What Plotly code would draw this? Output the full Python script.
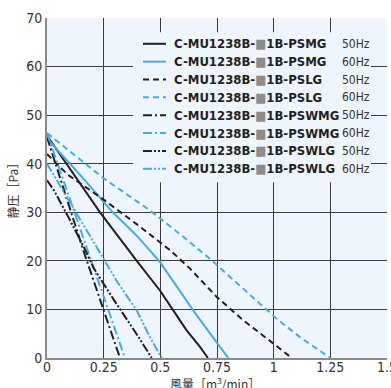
import plotly.graph_objects as go

# ---------------- data ----------------
model_names = [
    "C-MU1238B-■1B-PSMG", "C-MU1238B-■1B-PSMG",
    "C-MU1238B-■1B-PSLG", "C-MU1238B-■1B-PSLG",
    "C-MU1238B-■1B-PSWMG", "C-MU1238B-■1B-PSWMG",
    "C-MU1238B-■1B-PSWLG", "C-MU1238B-■1B-PSWLG",
]
freqs = ["50Hz", "60Hz", "50Hz", "60Hz", "50Hz", "60Hz", "50Hz", "60Hz"]

psmg50_x = [0, 0.1, 0.234, 0.396, 0.5, 0.557, 0.616, 0.675, 0.71]
psmg50_y = [45.8, 39.0, 30.0, 20.0, 13.8, 9.8, 5.7, 2.3, 0]
psmg60_x = [0, 0.15, 0.29, 0.4, 0.498, 0.57, 0.645, 0.72, 0.80]
psmg60_y = [45.2, 37.5, 30.0, 25.0, 19.8, 14.8, 9.8, 5.0, 0]
pslg50_x = [0, 0.09, 0.25, 0.4, 0.543, 0.631, 0.748, 0.865, 0.998, 1.08]
pslg50_y = [42.0, 37.8, 32.6, 27.4, 22.2, 18.4, 12.6, 7.8, 3.0, 0]
pslg60_x = [0, 0.1, 0.25, 0.454, 0.6, 0.719, 0.85, 1.013, 1.116, 1.25]
pslg60_y = [46.3, 42.6, 37.0, 30.4, 25.0, 20.4, 14.9, 8.1, 4.3, 0]
pswmg50_x = [0, 0.075, 0.16, 0.24, 0.322]
pswmg50_y = [45.5, 34.5, 22.2, 11.2, 0]
pswmg60_x = [0, 0.088, 0.175, 0.26, 0.344]
pswmg60_y = [46.3, 34.5, 22.7, 11.2, 0]
pswlg50_x = [0, 0.031, 0.1, 0.163, 0.207, 0.3, 0.4, 0.462]
pswlg50_y = [36.6, 34.5, 28.5, 22.8, 18.4, 11.6, 4.6, 0]
pswlg60_x = [0, 0.1, 0.226, 0.315, 0.396, 0.454, 0.506]
pswlg60_y = [40.0, 32.2, 22.2, 15.3, 9.8, 4.3, 0]

x_ticks = [0, 0.25, 0.5, 0.75, 1, 1.25, 1.5]
x_tick_labels = ["0", "0.25", "0.5", "0.75", "1", "1.25", "1.5"]
y_ticks = [0, 10, 20, 30, 40, 50, 60, 70]
x_title = "風量［m<sup>3</sup>/min］"
y_title = "静圧［Pa］"

# ---------------- styles ----------------
BLACK = "#231f20"
BLUE = "#4aa9e2"
BG = "#eef5fc"
GRID = "#3c3c3c"
FONT = "DejaVu Sans Condensed, Liberation Sans Narrow, Liberation Sans, sans-serif"
CJK = "Noto Sans CJK JP, sans-serif"

DASH = "6px,4px"
DASHDOT = "9px,3px,2px,3px"
DASHDOTDOT = "9px,2px,2px,2px,2px,2px"

series = [
    (psmg50_x, psmg50_y, BLACK, "solid"),
    (psmg60_x, psmg60_y, BLUE, "solid"),
    (pslg50_x, pslg50_y, BLACK, DASH),
    (pslg60_x, pslg60_y, BLUE, DASH),
    (pswmg50_x, pswmg50_y, BLACK, DASHDOT),
    (pswmg60_x, pswmg60_y, BLUE, DASHDOT),
    (pswlg50_x, pswlg50_y, BLACK, DASHDOTDOT),
    (pswlg60_x, pswlg60_y, BLUE, DASHDOTDOT),
]

fig = go.Figure()
for (xs, ys, col, dash), nm, hz in zip(series, model_names, freqs):
    fig.add_trace(go.Scatter(
        x=xs, y=ys, mode="lines", name=f"{nm} {hz}",
        line=dict(color=col, width=2, dash=dash),
        showlegend=False, hoverinfo="skip",
    ))

# ---------------- manual legend ----------------
W_PLOT = 340.0
PLOT_L, PLOT_B = 47.0, 357.7


def px_x(p):
    return (p - PLOT_L) / W_PLOT


def px_y(p):
    return (PLOT_B - p) / W_PLOT


shapes = [
    dict(type="rect", xref="paper", yref="paper",
         x0=px_x(133), x1=px_x(371), y0=px_y(182), y1=px_y(32),
         fillcolor=BG, line=dict(width=0), layer="above"),
]
annotations = []
row0, row_step = 43.5, 17.85
for i, ((xs, ys, col, dash), nm, hz) in enumerate(zip(series, model_names, freqs)):
    yc = px_y(row0 + i * row_step)
    shapes.append(dict(type="line", xref="paper", yref="paper",
                       x0=px_x(143), x1=px_x(166), y0=yc, y1=yc,
                       line=dict(color=col, width=2, dash=dash), layer="above"))
    head, tail = nm.split("■")
    annotations.append(dict(
        xref="paper", yref="paper", x=px_x(172), y=yc, xanchor="left", yanchor="middle",
        text=f"<b>{head}<span style='color:#8c8c8c'>■</span>{tail}</b>",
        showarrow=False, font=dict(family=FONT, size=13, color="#231f20")))
    annotations.append(dict(
        xref="paper", yref="paper", x=px_x(340), y=yc, xanchor="left", yanchor="middle",
        text=hz, showarrow=False, font=dict(family=FONT, size=12, color="#333333")))

# axis titles as annotations for exact placement
annotations.append(dict(
    xref="paper", yref="paper", x=px_x(215), y=px_y(383), xanchor="center", yanchor="middle",
    text=x_title, showarrow=False, font=dict(family=CJK, size=12, color="#333333")))
annotations.append(dict(
    xref="paper", yref="paper", x=px_x(1), y=0.5, xanchor="left", yanchor="middle",
    text=y_title, textangle=-90, showarrow=False,
    font=dict(family=CJK, size=12, color="#333333")))

fig.update_layout(
    width=391, height=388,
    margin=dict(l=47, r=4, t=18, b=30),
    paper_bgcolor="white", plot_bgcolor=BG,
    font=dict(family=FONT, size=13, color="#333333"),
    shapes=shapes, annotations=annotations,
    showlegend=False,
)
fig.update_xaxes(
    range=[0, 1.5], tickvals=x_ticks, ticktext=x_tick_labels,
    showgrid=True, gridcolor=GRID, gridwidth=1, zeroline=False,
    showline=True, linecolor="#8a8a8a", linewidth=2, ticks="",
    tickfont=dict(family=FONT, size=14, color="#333333"),
    ticklabeloverflow="allow",
    automargin=False,
)
try:
    fig.update_xaxes(ticklabelstandoff=-5)
except Exception:
    pass
fig.update_yaxes(
    range=[0, 70], tickvals=y_ticks,
    showgrid=True, gridcolor=GRID, gridwidth=1, zeroline=False,
    showline=True, linecolor="#8a8a8a", linewidth=2, ticks="",
    tickfont=dict(family=FONT, size=14, color="#333333"),
    automargin=False,
)

fig.write_html(
    "out.html",
    config={"displayModeBar": False},
    post_script="document.body.style.margin='0';document.body.style.padding='0';",
)
